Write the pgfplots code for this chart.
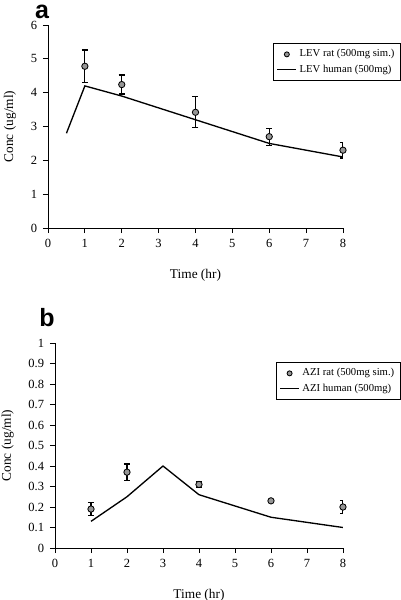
\documentclass[border=0pt]{standalone}
\usepackage{pgfplots}
\pgfplotsset{compat=1.18}
\usepackage{fontspec}
\setmainfont{Liberation Serif}
\newfontfamily\labfont{Liberation Sans}
\definecolor{markgray}{RGB}{150,150,150}
\pgfplotsset{
  myax/.style={
    scale only axis,
    axis x line*=bottom, axis y line*=left,
    tick align=outside,
    major tick length=3pt,
    every tick/.style={black, line width=0.5pt},
    axis line style={line width=0.5pt},
    xmin=0, xmax=8, xtick={0,...,8},
    ymin=0,
    /pgf/number format/assume math mode=true,
    tick label style={font=\fontsize{7.5}{9}\selectfont},
    label style={font=\fontsize{8}{10}\selectfont},
    xlabel={Time (hr)},
    ylabel={Conc (ug/ml)},
    legend cell align=left,
    legend style={draw=black, line width=0.4pt, font=\fontsize{6.4}{7}\selectfont,
      inner sep=2pt, row sep=0pt, anchor=north east,
      nodes={inner sep=1.6pt}},
  },
  ratstyle/.style={only marks, mark=*, mark size=1.9pt,
    mark options={fill=markgray, draw=black, line width=0.5pt},
    legend image code/.code={\draw[mark size=1.5pt,##1] plot coordinates {(0.2cm,0cm)};},
    error bars/.cd, y dir=both, y explicit,
    error bar style={black, line width=0.7pt},
    error mark options={rotate=90, mark size=1.8pt, black, line width=0.7pt}},
  humstyle/.style={black, line width=0.8pt, mark=none,
    legend image code/.code={\draw[##1] (0cm,0cm) -- (0.4cm,0cm);}},
}
\begin{document}
\begin{tikzpicture}[x=0.6pt,y=0.6pt]
\path[use as bounding box] (0,0) rectangle (400,600);
\node[font=\labfont\bfseries\fontsize{15}{15}\selectfont, anchor=center] at (42,588) {a};
\node[font=\labfont\bfseries\fontsize{15}{15}\selectfont, anchor=center] at (47,282) {b};
\begin{axis}[myax,
  at={(28.8pt,223.2pt)}, anchor=south west,
  width=177pt, height=121.8pt,
  ymax=6, ytick={0,...,6},
  xlabel style={yshift=-6pt},
  ylabel style={yshift=2pt},
  legend style={at={(1.196,0.911)}}]
\addplot+[ratstyle] coordinates {
  (1,4.78) +- (0,0.48)
  (2,4.24) +- (0,0.28)
  (4,3.42) +- (0,0.46)
  (6,2.70) +- (0,0.25)
  (8,2.30) +- (0,0.23)
};
\addlegendentry{LEV rat (500mg sim.)}
\addplot[humstyle] coordinates {
  (0.5,2.8) (1,4.2) (2,3.9) (4,3.2) (6,2.5) (8,2.1)
};
\addlegendentry{LEV human (500mg)}
\end{axis}

\begin{axis}[myax,
  at={(33pt,31.2pt)}, anchor=south west,
  width=172.8pt, height=123pt,
  ymax=1, ytick={0,0.1,...,1.0},
  yticklabels={0,0.1,0.2,0.3,0.4,0.5,0.6,0.7,0.8,0.9,1},
  xlabel style={yshift=-6pt},
  ylabel style={yshift=2pt},
  legend style={at={(1.2,0.907)}}]
\addplot+[ratstyle] coordinates {
  (1,0.19) +- (0,0.03)
  (2,0.37) +- (0,0.04)
  (4,0.31) +- (0,0.015)
  (6,0.23) +- (0,0.005)
  (8,0.20) +- (0,0.03)
};
\addlegendentry{AZI rat (500mg sim.)}
\addplot[humstyle] coordinates {
  (1,0.13) (2,0.25) (3,0.40) (4,0.26) (6,0.15) (8,0.10)
};
\addlegendentry{AZI human (500mg)}
\end{axis}
\end{tikzpicture}
\end{document}
